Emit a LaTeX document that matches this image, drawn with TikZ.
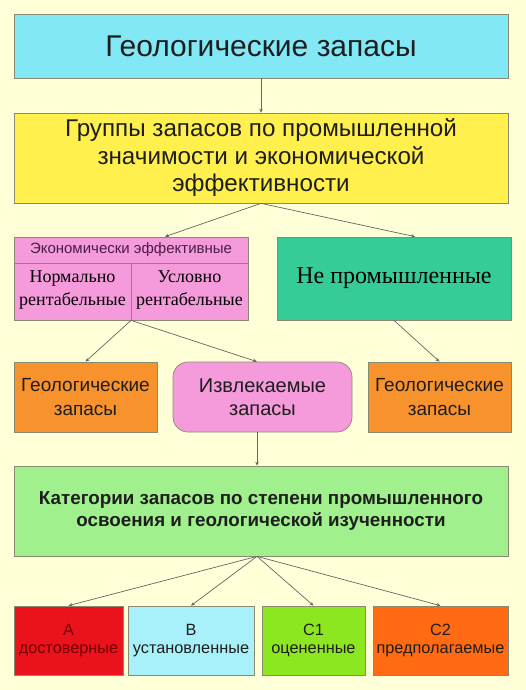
\documentclass[tikz,border=0pt]{standalone}
\usepackage{fontspec}
\setmainfont{Liberation Serif}
\newfontfamily\arialf{Liberation Sans}
\usetikzlibrary{arrows.meta,calc}
\definecolor{bgc}{HTML}{FFFFD8}
\definecolor{cyanc}{HTML}{82E8F6}
\definecolor{yelc}{HTML}{FFF04E}
\definecolor{pinkc}{HTML}{F59BDC}
\definecolor{tealc}{HTML}{36CC98}
\definecolor{orc}{HTML}{F7922C}
\definecolor{lgc}{HTML}{A0F08E}
\definecolor{redc}{HTML}{EA121C}
\definecolor{lcc}{HTML}{A8F0FA}
\definecolor{limec}{HTML}{8CE620}
\definecolor{or2c}{HTML}{FF6A12}
\definecolor{edgec}{HTML}{8A8A70}
\definecolor{txtc}{HTML}{1E1E1E}
\definecolor{purtxt}{HTML}{4A1E44}
\begin{document}
\begin{tikzpicture}[x=1pt,y=-1pt,
  box/.style={draw=edgec,line width=0.7pt,inner sep=0pt,align=center,text=txtc,font=\arialf},
  conn/.style={draw=black!60,line width=0.7pt,-{Stealth[length=4pt,width=3.5pt]}}]
\fill[bgc] (0,0) rectangle (526,690);
\useasboundingbox (0,0) rectangle (526,690);
% top
\node[box,fill=cyanc,minimum width=494pt,minimum height=64pt,font=\arialf\fontsize{30}{34}\selectfont] (geo) at (261,46) {Геологические запасы};
\node[box,fill=yelc,minimum width=494pt,minimum height=90pt,font=\arialf\fontsize{24.2}{27.5}\selectfont] (grp) at (261,158) {Группы запасов по промышленной\\значимости и экономической\\эффективности};
% pink table
\node[box,fill=pinkc,minimum width=234pt,minimum height=83pt] (eco) at (131,278.5) {};
\draw[edgec,line width=0.7pt] (14,263) -- (248,263);
\draw[edgec,line width=0.7pt] (131,263) -- (131,320);
\node[text=purtxt,font=\arialf\fontsize{15}{17}\selectfont] (ecoh) at (131,250) {Экономически эффективные};
\node[align=center,font=\fontsize{18}{23}\selectfont,text=black,inner sep=0pt] (norm) at (72.5,290) {Нормально\\рентабельные};
\node[align=center,font=\fontsize{18}{23}\selectfont,text=black,inner sep=0pt] (usl) at (189.5,290) {Условно\\рентабельные};
\node[box,fill=tealc,minimum width=234pt,minimum height=83pt,font=\fontsize{24}{28}\selectfont,text=black] (nep) at (394,278.5) {\raisebox{5pt}{Не промышленные}};
% third row
\node[box,fill=orc,minimum width=143pt,minimum height=70pt,font=\arialf\fontsize{19}{23.5}\selectfont] (gl) at (85.5,397) {Геологические\\запасы};
\node[box,fill=pinkc,rounded corners=15pt,minimum width=179pt,minimum height=70pt,font=\arialf\fontsize{20}{23.5}\selectfont] (izv) at (262.5,397) {Извлекаемые\\запасы};
\node[box,fill=orc,minimum width=143pt,minimum height=70pt,font=\arialf\fontsize{19}{23.5}\selectfont] (gr) at (439.5,397) {Геологические\\запасы};
% categories
\node[box,fill=lgc,minimum width=494pt,minimum height=90pt,font=\arialf\bfseries\fontsize{18.8}{21.5}\selectfont] (cat) at (261,511) {Категории запасов по степени промышленного\\освоения и геологической изученности};
\node[box,fill=redc,minimum width=109pt,minimum height=69pt,text=red!45!black,font=\arialf\fontsize{16.3}{18.5}\selectfont] (ca) at (68.5,640.5) {А\\достоверные};
\node[box,fill=lcc,minimum width=126pt,minimum height=69pt,font=\arialf\fontsize{16.3}{18.5}\selectfont] (cb) at (191,640.5) {В\\установленные};
\node[box,fill=limec,minimum width=103pt,minimum height=69pt,font=\arialf\fontsize{16.3}{18.5}\selectfont] (cc1) at (313.5,640.5) {С1\\оцененные};
\node[box,fill=or2c,minimum width=135pt,minimum height=69pt,font=\arialf\fontsize{16.3}{18.5}\selectfont] (cc2) at (440.5,640.5) {С2\\предполагаемые};
% connectors
\coordinate (ecoin) at ($(eco.north)+(34,0)$);
\coordinate (nepin) at ($(nep.north)+(21,0)$);
\coordinate (izvout) at ($(izv.south)+(-5.5,0)$);
\coordinate (catin) at ($(cat.north)+(-4,0)$);
\coordinate (catout) at ($(cat.south)+(-4,0)$);
\coordinate (izvin) at ($(izv.north)+(-5.5,0)$);
\draw[conn] (geo.south) -- (grp.north);
\draw[conn] (grp.south) -- (ecoin);
\draw[conn] (grp.south) -- (nepin);
\draw[conn] (eco.south) -- (gl.north);
\draw[conn] (eco.south) -- (izvin);
\draw[conn] (nep.south) -- (gr.north);
\draw[conn] (izvout) -- (catin);
\draw[conn] (catout) -- (ca.north);
\draw[conn] (catout) -- (cb.north);
\draw[conn] (catout) -- (cc1.north);
\draw[conn] (catout) -- (cc2.north);
\end{tikzpicture}
\end{document}
